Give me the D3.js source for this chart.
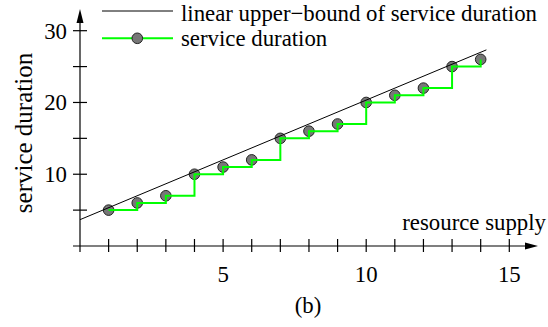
<!DOCTYPE html>
<html><head><meta charset="utf-8">
<script src="https://cdn.jsdelivr.net/npm/d3@7"></script>
<style>body{margin:0;background:#fff}svg{display:block}text{font-family:"Liberation Serif","Times New Roman",serif;fill:#000}</style>
</head><body><svg id="c" width="548" height="327"></svg>
<script>
const supply = [1,2,3,4,5,6,7,8,9,10,11,12,13,14];
const duration = [5,6,7,10,11,12,15,16,17,20,21,22,25,26];
const boundX = [0, 14.2];
const boundY = [3.67, 27.33];
const xTicks = [1,2,3,4,5,6,7,8,9,10,11,12,13,14,15];
const xLabels = [5,10,15];
const yTicks = [5,10,15,20,25,30];
const yLabels = [10,20,30];
const legendLabels = ["linear upper\u2212bound of service duration","service duration"];

const svg = d3.select("#c");
const x = d3.scaleLinear().domain([0,15]).range([80,509.3]);
const y = d3.scaleLinear().domain([0,30]).range([246,30.7]);
const FS = 22.8;

// axes
const ax = svg.append("g").attr("stroke","#000").attr("stroke-width",1.2);
ax.append("line").attr("x1",73).attr("x2",527).attr("y1",y(0)).attr("y2",y(0));
ax.append("line").attr("x1",x(0)).attr("x2",x(0)).attr("y1",252).attr("y2",22);
svg.append("path").attr("d",`M${x(0)},9 L${x(0)-3.5},23 L${x(0)+3.5},23 Z`).attr("fill","#000");
svg.append("path").attr("d",`M538,${y(0)} L525,${y(0)-3.5} L525,${y(0)+3.5} Z`).attr("fill","#000");

ax.selectAll(".xt").data(xTicks).join("line")
  .attr("x1",d=>x(d)).attr("x2",d=>x(d)).attr("y1",239).attr("y2",252);
ax.selectAll(".yt").data(yTicks).join("line")
  .attr("x1",73).attr("x2",87).attr("y1",d=>y(d)).attr("y2",d=>y(d));

svg.selectAll(".xl").data(xLabels).join("text")
  .attr("x",d=>x(d)).attr("y",282).attr("text-anchor","middle").attr("font-size",FS).text(d=>d);
svg.selectAll(".yl").data(yLabels).join("text")
  .attr("x",67).attr("y",d=>y(d)+8).attr("text-anchor","end").attr("font-size",FS).text(d=>d);

svg.append("text").attr("x",546).attr("y",230).attr("text-anchor","end").attr("font-size",FS).text("resource supply");
svg.append("text").attr("transform","translate(32,133) rotate(-90)").attr("text-anchor","middle").attr("font-size",25).text("service duration");
svg.append("text").attr("x",308).attr("y",313).attr("text-anchor","middle").attr("font-size",FS).text("(b)");

// markers
const pts = supply.map((s,i)=>[s,duration[i]]);
svg.selectAll(".pt").data(pts).join("circle")
  .attr("cx",d=>x(d[0])).attr("cy",d=>y(d[1])).attr("r",5.3)
  .attr("fill","#777").attr("stroke","#222").attr("stroke-width",1);

// bound line
svg.append("line").attr("x1",x(boundX[0])).attr("y1",y(boundY[0])).attr("x2",x(boundX[1])).attr("y2",y(boundY[1]))
  .attr("stroke","#000").attr("stroke-width",1);

// step line
const step = d3.line().x(d=>x(d[0])).y(d=>y(d[1])).curve(d3.curveStepAfter);
svg.append("path").attr("d",step(pts)).attr("fill","none").attr("stroke","#00ff00").attr("stroke-width",2);

// legend
svg.append("line").attr("x1",102).attr("x2",173).attr("y1",11).attr("y2",11).attr("stroke","#000").attr("stroke-width",1);
svg.append("text").attr("x",181).attr("y",20.5).attr("font-size",FS).text(legendLabels[0]);
svg.append("line").attr("x1",102).attr("x2",173).attr("y1",38.3).attr("y2",38.3).attr("stroke","#00ff00").attr("stroke-width",2);
svg.append("circle").attr("cx",137.3).attr("cy",38.3).attr("r",5.3).attr("fill","#777").attr("stroke","#222");
svg.append("text").attr("x",181).attr("y",45.5).attr("font-size",FS).text(legendLabels[1]);
</script></body></html>
